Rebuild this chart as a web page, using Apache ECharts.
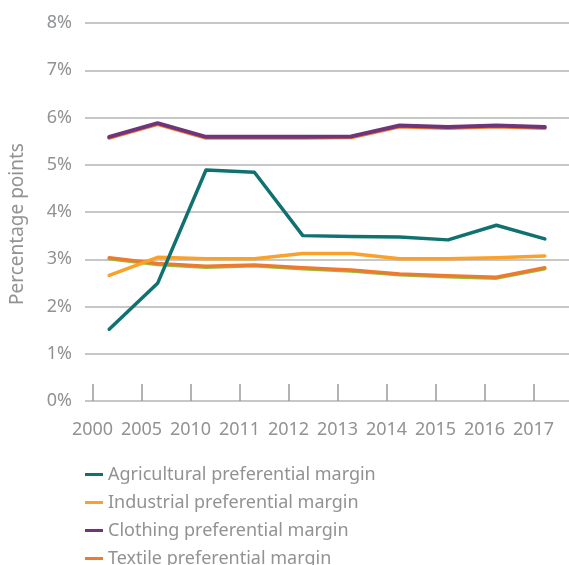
<!DOCTYPE html>
<html>
<head>
<meta charset="utf-8">
<script src="https://cdn.jsdelivr.net/npm/echarts@6/dist/echarts.min.js"></script>
<style>
  html, body { margin: 0; padding: 0; background: #fff; }
  #chart { width: 569px; height: 565px; }
</style>
</head>
<body>
<div id="chart"></div>
<script>
// Preferential margins, percentage points
var years = ['2000', '2005', '2010', '2011', '2012', '2013', '2014', '2015', '2016', '2017'];
var agricultural = [1.52, 2.49, 4.89, 4.84, 3.50, 3.48, 3.47, 3.41, 3.72, 3.43];
var industrial   = [2.66, 3.04, 3.01, 3.01, 3.12, 3.12, 3.01, 3.01, 3.03, 3.07];
var clothing     = [5.59, 5.88, 5.59, 5.59, 5.59, 5.60, 5.83, 5.80, 5.83, 5.80];
var textile      = [3.03, 2.91, 2.85, 2.88, 2.82, 2.77, 2.69, 2.65, 2.62, 2.82];
// thin companion lines peeking out from under the clothing and textile lines
var clothingUnder = [5.57, 5.86, 5.57, 5.57, 5.57, 5.58, 5.81, 5.78, 5.81, 5.78];
var textileUnder  = [3.01, 2.89, 2.83, 2.86, 2.80, 2.75, 2.67, 2.63, 2.60, 2.80];
var yTicks = [0, 1, 2, 3, 4, 5, 6, 7, 8];

var gray = '#909294';
var fontFamily = '"Noto Sans", "Open Sans", sans-serif';

var chart = echarts.init(document.getElementById('chart'), null, { renderer: 'canvas' });

function line(name, data, color, width, z) {
  return {
    name: name, type: 'line', data: data, xAxisIndex: 0, yAxisIndex: 0,
    symbol: 'none', z: z,
    lineStyle: { color: color, width: width, cap: 'round', join: 'round' },
    itemStyle: { color: color }
  };
}

chart.setOption({
  animation: false,
  grid: [
    { left: 81.5, top: 23, width: 490, height: 378 },
    { left: 68, top: 23, width: 490, height: 378 }
  ],
  xAxis: [
    {
      type: 'category', data: years, gridIndex: 0, boundaryGap: true,
      axisLine: { show: false }, axisTick: { show: false }, axisLabel: { show: false }
    },
    {
      type: 'category', data: years, gridIndex: 1, boundaryGap: true,
      axisLine: { show: false },
      axisTick: { show: true, inside: true, length: 17, alignWithLabel: true, interval: 0,
                  lineStyle: { color: '#9a9a9a', width: 1.5 } },
      axisLabel: { color: gray, fontSize: 18, fontFamily: fontFamily, margin: 20, interval: 0 }
    }
  ],
  yAxis: [
    {
      type: 'value', gridIndex: 0, min: yTicks[0], max: yTicks[yTicks.length - 1], interval: 1,
      name: 'Percentage points', nameLocation: 'middle', nameGap: 58,
      nameTextStyle: { color: gray, fontSize: 19, fontFamily: fontFamily, padding: [0, 24, 0, 0] },
      axisLine: { show: false }, axisTick: { show: false },
      axisLabel: { color: gray, fontSize: 18, fontFamily: fontFamily, margin: 13,
                   formatter: function (v) { return v + '%'; } },
      splitLine: { show: true, lineStyle: { color: '#b4b4b4', width: 1.5 } }
    },
    {
      type: 'value', gridIndex: 1, min: 0, max: 8, show: false,
      splitLine: { show: false }
    }
  ],
  legend: {
    orient: 'vertical', left: 80, top: 459, height: 160,
    data: ['Agricultural preferential margin', 'Industrial preferential margin',
           'Clothing preferential margin', 'Textile preferential margin'],
    icon: 'rect', itemWidth: 18, itemHeight: 3, itemGap: 7,
    textStyle: { color: gray, fontSize: 18, fontFamily: fontFamily, lineHeight: 21, padding: [0, 0, 0, 0] }
  },
  series: [
    line('Textile companion', textileUnder, '#8cc63f', 3.5, 1),
    line('Textile preferential margin', textile, '#ec7b30', 3.5, 2),
    line('Industrial preferential margin', industrial, '#f9a12a', 3.5, 3),
    line('Clothing companion', clothingUnder, '#ef7d2f', 4, 4),
    line('Clothing preferential margin', clothing, '#6f3479', 4, 5),
    line('Agricultural preferential margin', agricultural, '#0f7271', 3.5, 6)
  ]
});
</script>
</body>
</html>
